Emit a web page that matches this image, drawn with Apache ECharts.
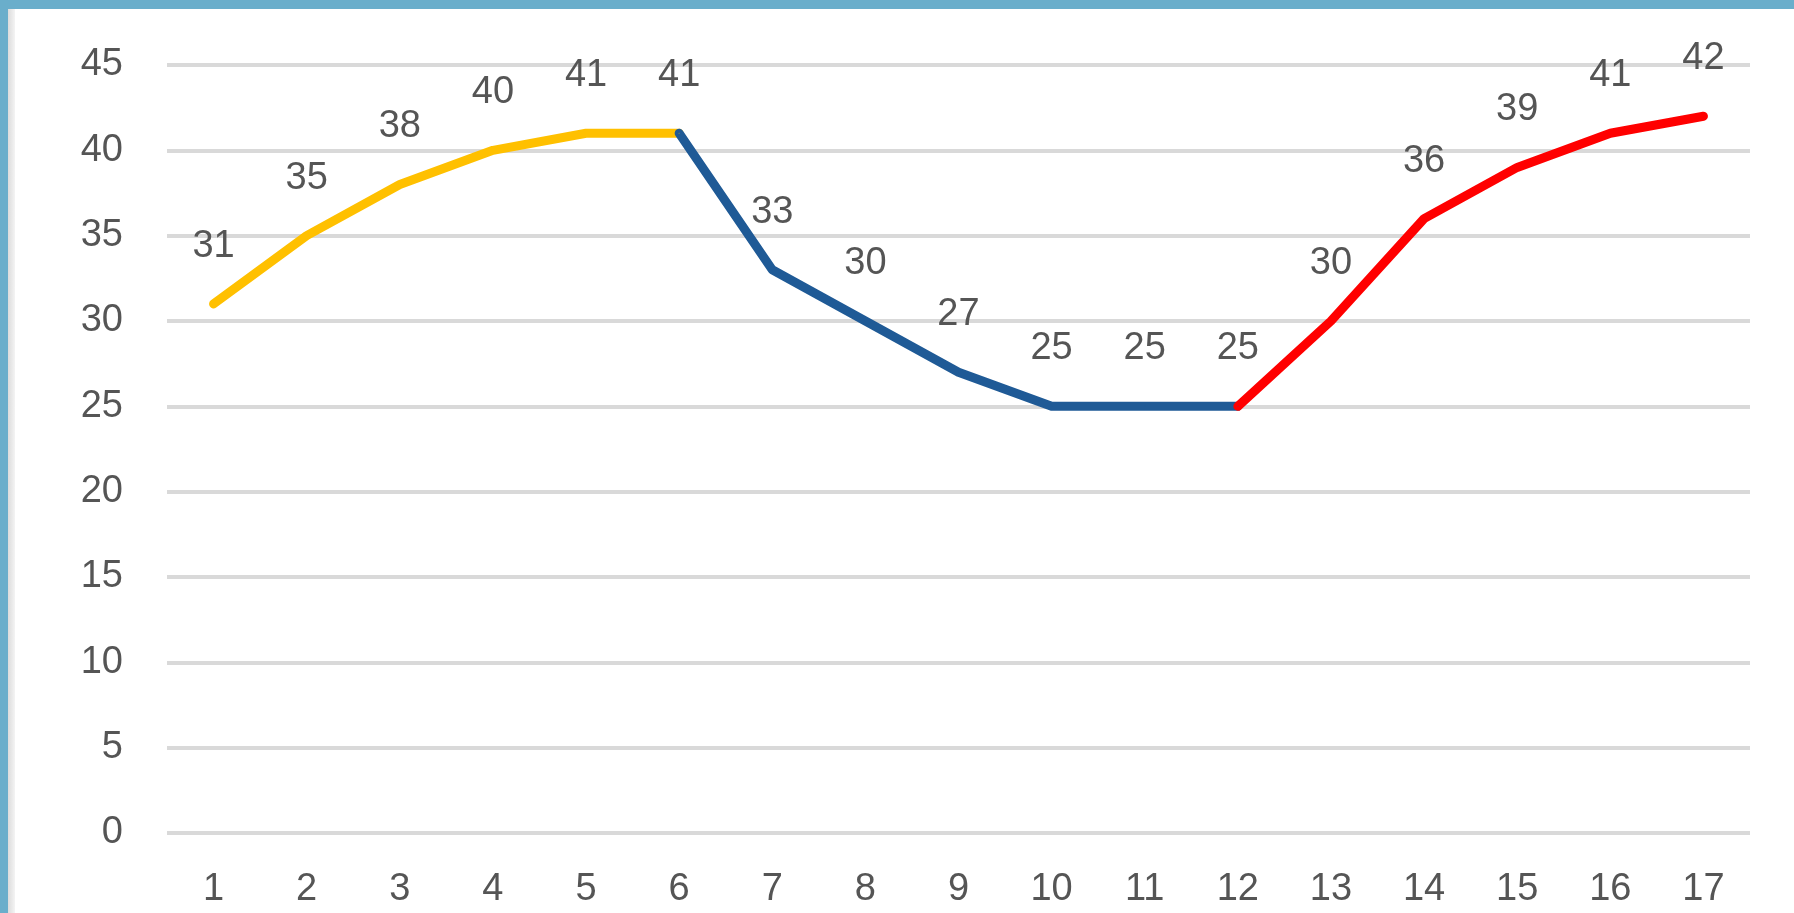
<!DOCTYPE html>
<html>
<head>
<meta charset="utf-8">
<script src="https://cdn.jsdelivr.net/npm/echarts@6/dist/echarts.min.js"></script>
<style>
  html, body { margin: 0; padding: 0; background: #fff; }
  #frame { position: absolute; left: 0; top: 0; width: 1794px; height: 913px; overflow: hidden; }
  #topBar { position: absolute; left: 0; top: 0; width: 1794px; height: 9px; background: #6aaecb; }
  #leftBar { position: absolute; left: 0; top: 0; width: 8px; height: 913px; background: #6aaecb; }
  #leftEdge { position: absolute; left: 8px; top: 9px; width: 7px; height: 904px; background: linear-gradient(to right, #dcdcdc, #f4f4f4); }
  #chart { position: absolute; left: 0; top: 0; width: 1794px; height: 913px; }
</style>
</head>
<body>
<div id="frame">
  <div id="topBar"></div>
  <div id="leftBar"></div>
  <div id="leftEdge"></div>
  <div id="chart"></div>
</div>
<script>
const categories = ['1', '2', '3', '4', '5', '6', '7', '8', '9', '10', '11', '12', '13', '14', '15', '16', '17']
const values = [31, 35, 38, 40, 41, 41, 33, 30, 27, 25, 25, 25, 30, 36, 39, 41, 42]
const yTicks = [0, 5, 10, 15, 20, 25, 30, 35, 40, 45]

// segments: [first index, last index, colour, first labelled index]
const segments = [
  [0, 5, '#ffc000', 0],
  [5, 11, '#1f5a96', 6],
  [11, 16, '#ff0000', 12],
]

const textColor = '#555555'
const font = 'Liberation Sans, Arial, sans-serif'

const series = segments.map(([from, to, color, labelFrom]) => ({
  type: 'line',
  data: values.map((v, i) => (i >= from && i <= to ? v : '-')),
  symbol: 'circle',
  symbolSize: 1,
  showSymbol: true,
  itemStyle: { color: color },
  lineStyle: { color: color, width: 9, cap: 'round', join: 'round' },
  label: {
    show: true,
    position: 'top',
    distance: 38,
    color: textColor,
    fontFamily: font,
    fontSize: 38,
    formatter: p => (p.dataIndex >= labelFrom ? String(p.value) : ''),
  },
  emphasis: { disabled: true },
  animation: false,
  z: 3,
}))

const chart = echarts.init(document.getElementById('chart'))
chart.setOption({
  backgroundColor: 'transparent',
  grid: {
    left: 167,
    right: 44,
    top: 65,
    bottom: 80,
  },
  xAxis: {
    type: 'category',
    data: categories,
    boundaryGap: true,
    axisLine: { show: false },
    axisTick: { show: false },
    axisLabel: {
      color: textColor,
      fontFamily: font,
      fontSize: 38,
      margin: 38,
    },
  },
  yAxis: {
    type: 'value',
    min: yTicks[0],
    max: yTicks[yTicks.length - 1],
    interval: 5,
    axisLine: { show: false },
    axisTick: { show: false },
    axisLabel: {
      color: textColor,
      fontFamily: font,
      fontSize: 38,
      margin: 44,
    },
    splitLine: {
      show: true,
      lineStyle: { color: '#d9d9d9', width: 4 },
    },
  },
  series: series,
})
</script>
</body>
</html>
